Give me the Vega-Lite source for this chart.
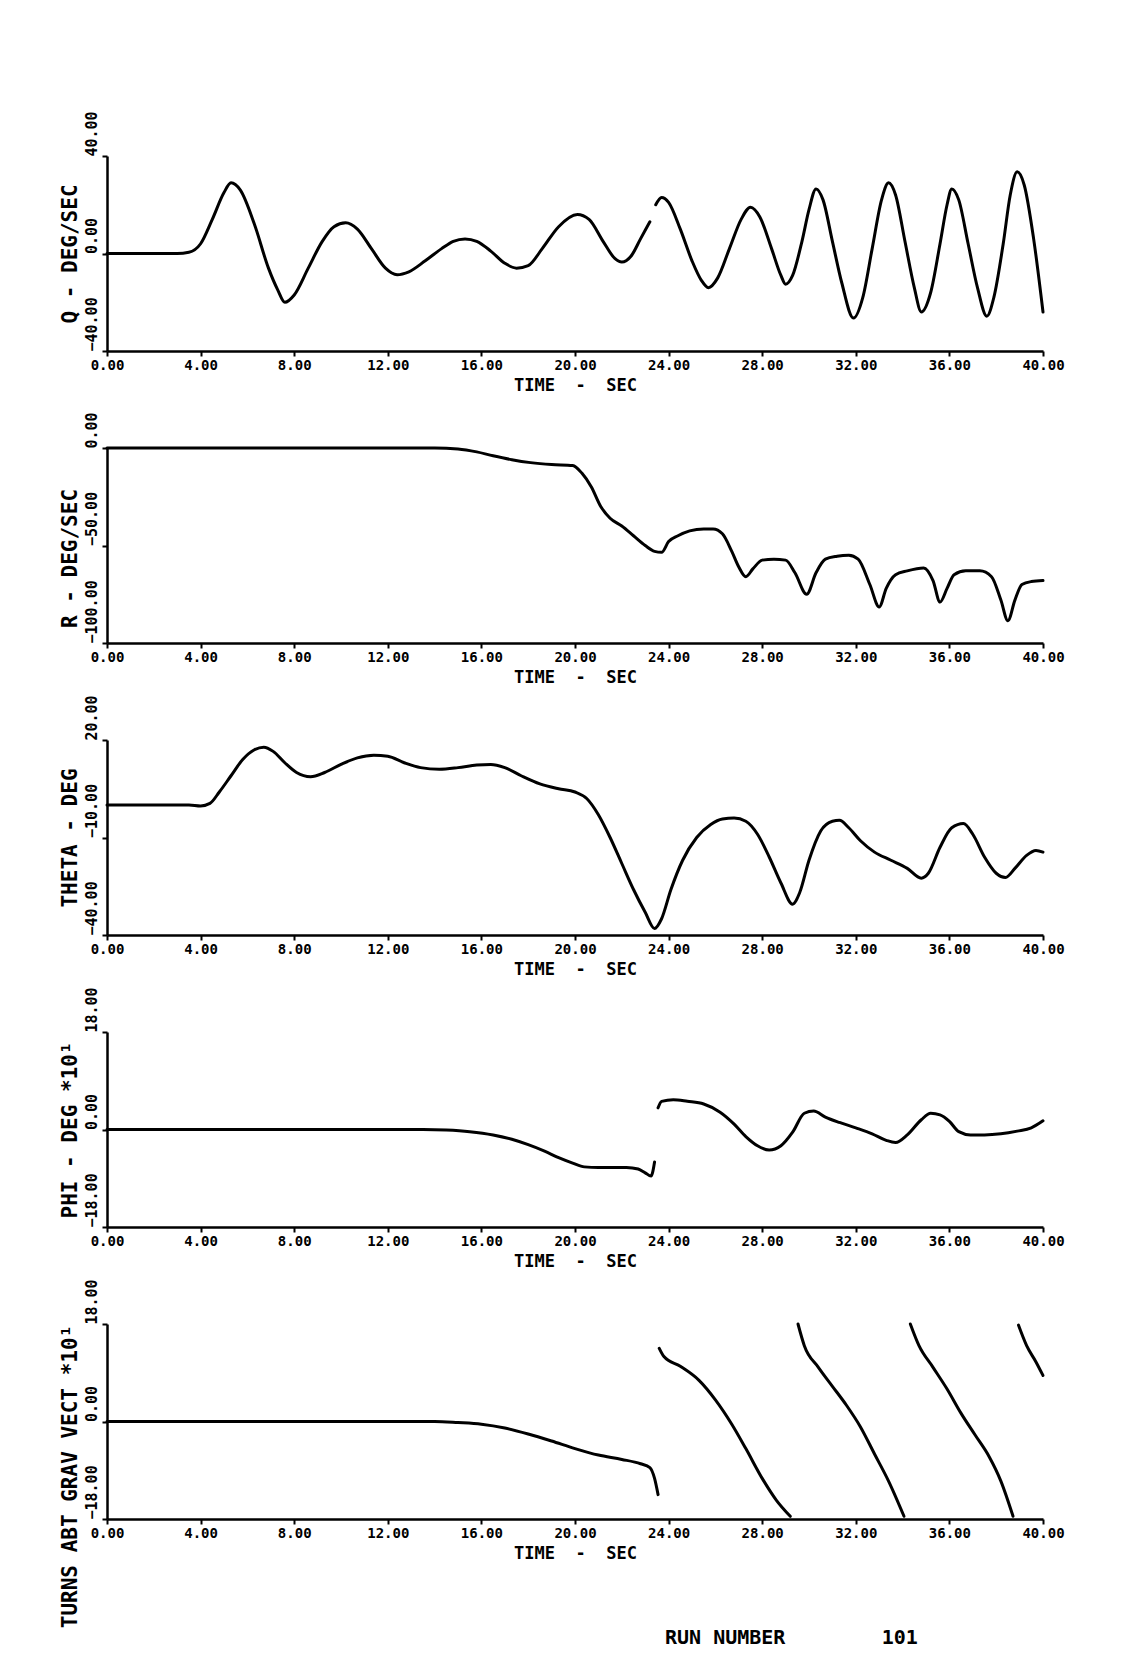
{
  "$schema": "https://vega.github.io/schema/vega-lite/v6.json",
  "background": "white",
  "padding": {"left": 58, "top": 110, "right": 20, "bottom": 6},
  "bounds": "flush",
  "spacing": 97,
  "datasets": {
    "q": [
      {"t": 0, "v": 0, "seg": 0}, {"t": 3.0, "v": 0, "seg": 0}, {"t": 3.5, "v": 0.5, "seg": 0}, {"t": 4.0, "v": 4, "seg": 0},
      {"t": 4.5, "v": 14, "seg": 0}, {"t": 5.0, "v": 25, "seg": 0}, {"t": 5.3, "v": 29, "seg": 0}, {"t": 5.7, "v": 26, "seg": 0},
      {"t": 6.3, "v": 12, "seg": 0}, {"t": 6.9, "v": -6, "seg": 0}, {"t": 7.3, "v": -15, "seg": 0}, {"t": 7.6, "v": -20, "seg": 0},
      {"t": 8.0, "v": -17, "seg": 0}, {"t": 8.6, "v": -6, "seg": 0}, {"t": 9.2, "v": 5, "seg": 0}, {"t": 9.7, "v": 11, "seg": 0},
      {"t": 10.2, "v": 12.6, "seg": 0}, {"t": 10.7, "v": 10, "seg": 0}, {"t": 11.3, "v": 2, "seg": 0}, {"t": 11.9, "v": -6, "seg": 0},
      {"t": 12.4, "v": -8.7, "seg": 0}, {"t": 12.9, "v": -7.5, "seg": 0}, {"t": 13.6, "v": -3, "seg": 0}, {"t": 14.3, "v": 2, "seg": 0},
      {"t": 14.8, "v": 5, "seg": 0}, {"t": 15.3, "v": 6, "seg": 0}, {"t": 15.8, "v": 5, "seg": 0}, {"t": 16.4, "v": 1, "seg": 0},
      {"t": 17.0, "v": -4, "seg": 0}, {"t": 17.5, "v": -6, "seg": 0}, {"t": 18.0, "v": -5, "seg": 0}, {"t": 18.6, "v": 2, "seg": 0},
      {"t": 19.3, "v": 11, "seg": 0}, {"t": 20.1, "v": 16, "seg": 0}, {"t": 20.6, "v": 14, "seg": 0}, {"t": 21.2, "v": 5, "seg": 0},
      {"t": 21.7, "v": -2, "seg": 0}, {"t": 22.0, "v": -3.5, "seg": 0}, {"t": 22.4, "v": -1, "seg": 0}, {"t": 22.8, "v": 6, "seg": 0},
      {"t": 23.2, "v": 13, "seg": 0},
      {"t": 23.45, "v": 20, "seg": 1}, {"t": 23.7, "v": 23, "seg": 1}, {"t": 24.0, "v": 21, "seg": 1}, {"t": 24.5, "v": 10, "seg": 1},
      {"t": 25.0, "v": -3, "seg": 1}, {"t": 25.4, "v": -11, "seg": 1}, {"t": 25.7, "v": -14, "seg": 1}, {"t": 26.1, "v": -10, "seg": 1},
      {"t": 26.6, "v": 2, "seg": 1}, {"t": 27.1, "v": 14, "seg": 1}, {"t": 27.5, "v": 19, "seg": 1}, {"t": 27.9, "v": 15, "seg": 1},
      {"t": 28.4, "v": 2, "seg": 1}, {"t": 28.8, "v": -9, "seg": 1}, {"t": 29.0, "v": -12.6, "seg": 1}, {"t": 29.3, "v": -9, "seg": 1},
      {"t": 29.7, "v": 5, "seg": 1}, {"t": 30.0, "v": 18, "seg": 1}, {"t": 30.3, "v": 26.5, "seg": 1}, {"t": 30.6, "v": 22, "seg": 1},
      {"t": 31.0, "v": 5, "seg": 1}, {"t": 31.4, "v": -12, "seg": 1}, {"t": 31.9, "v": -26.5, "seg": 1}, {"t": 32.3, "v": -18, "seg": 1},
      {"t": 32.7, "v": 2, "seg": 1}, {"t": 33.1, "v": 22, "seg": 1}, {"t": 33.4, "v": 29, "seg": 1}, {"t": 33.7, "v": 24, "seg": 1},
      {"t": 34.1, "v": 5, "seg": 1}, {"t": 34.5, "v": -14, "seg": 1}, {"t": 34.8, "v": -24, "seg": 1}, {"t": 35.2, "v": -16, "seg": 1},
      {"t": 35.6, "v": 4, "seg": 1}, {"t": 35.9, "v": 20, "seg": 1}, {"t": 36.1, "v": 26.5, "seg": 1}, {"t": 36.4, "v": 22, "seg": 1},
      {"t": 36.8, "v": 4, "seg": 1}, {"t": 37.2, "v": -14, "seg": 1}, {"t": 37.6, "v": -25.7, "seg": 1}, {"t": 37.9, "v": -18, "seg": 1},
      {"t": 38.3, "v": 4, "seg": 1}, {"t": 38.6, "v": 24, "seg": 1}, {"t": 38.9, "v": 33.5, "seg": 1}, {"t": 39.2, "v": 28, "seg": 1},
      {"t": 39.6, "v": 6, "seg": 1}, {"t": 40.0, "v": -24, "seg": 1}
    ],
    "r": [
      {"t": 0, "v": 0}, {"t": 14.0, "v": 0}, {"t": 15.0, "v": -0.5}, {"t": 15.8, "v": -2}, {"t": 16.5, "v": -4},
      {"t": 17.3, "v": -6}, {"t": 18.1, "v": -7.5}, {"t": 19.0, "v": -8.5}, {"t": 19.9, "v": -9}, {"t": 20.3, "v": -13},
      {"t": 20.7, "v": -20}, {"t": 21.1, "v": -30}, {"t": 21.5, "v": -36}, {"t": 22.0, "v": -40}, {"t": 22.5, "v": -45},
      {"t": 23.0, "v": -50}, {"t": 23.4, "v": -53}, {"t": 23.7, "v": -53.5}, {"t": 24.0, "v": -48}, {"t": 24.4, "v": -45},
      {"t": 24.9, "v": -42.5}, {"t": 25.5, "v": -41.5}, {"t": 25.9, "v": -41.5}, {"t": 26.3, "v": -44}, {"t": 26.7, "v": -53},
      {"t": 27.0, "v": -61}, {"t": 27.3, "v": -66}, {"t": 27.6, "v": -62}, {"t": 28.0, "v": -57.5}, {"t": 28.5, "v": -57},
      {"t": 29.0, "v": -57.5}, {"t": 29.4, "v": -64}, {"t": 29.9, "v": -75}, {"t": 30.3, "v": -64}, {"t": 30.7, "v": -57},
      {"t": 31.2, "v": -55.5}, {"t": 31.7, "v": -55}, {"t": 32.1, "v": -57}, {"t": 32.6, "v": -70}, {"t": 33.0, "v": -81.5},
      {"t": 33.3, "v": -72}, {"t": 33.7, "v": -65}, {"t": 34.2, "v": -63}, {"t": 34.9, "v": -61.5}, {"t": 35.3, "v": -68},
      {"t": 35.6, "v": -79}, {"t": 35.9, "v": -72}, {"t": 36.2, "v": -65}, {"t": 36.7, "v": -63}, {"t": 37.3, "v": -63},
      {"t": 37.8, "v": -66}, {"t": 38.2, "v": -78}, {"t": 38.5, "v": -88.6}, {"t": 38.8, "v": -78}, {"t": 39.1, "v": -70},
      {"t": 39.5, "v": -68.5}, {"t": 40.0, "v": -68}
    ],
    "theta": [
      {"t": 0, "v": 0}, {"t": 3.5, "v": 0}, {"t": 4.0, "v": -0.3}, {"t": 4.4, "v": 0.5}, {"t": 4.8, "v": 4},
      {"t": 5.3, "v": 9}, {"t": 5.8, "v": 14}, {"t": 6.3, "v": 17}, {"t": 6.7, "v": 17.8}, {"t": 7.1, "v": 16.5},
      {"t": 7.6, "v": 13}, {"t": 8.1, "v": 10}, {"t": 8.7, "v": 8.7}, {"t": 9.3, "v": 10}, {"t": 10.0, "v": 12.5},
      {"t": 10.7, "v": 14.5}, {"t": 11.4, "v": 15.3}, {"t": 12.0, "v": 15}, {"t": 12.7, "v": 13}, {"t": 13.4, "v": 11.5},
      {"t": 14.2, "v": 11}, {"t": 15.0, "v": 11.5}, {"t": 15.8, "v": 12.3}, {"t": 16.4, "v": 12.5}, {"t": 17.0, "v": 11.5},
      {"t": 17.7, "v": 9}, {"t": 18.5, "v": 6.5}, {"t": 19.3, "v": 5}, {"t": 20.0, "v": 4}, {"t": 20.5, "v": 2},
      {"t": 21.0, "v": -3}, {"t": 21.5, "v": -10}, {"t": 22.0, "v": -18}, {"t": 22.5, "v": -26}, {"t": 23.0, "v": -33},
      {"t": 23.4, "v": -38}, {"t": 23.7, "v": -35}, {"t": 24.1, "v": -26}, {"t": 24.6, "v": -17}, {"t": 25.2, "v": -10},
      {"t": 25.8, "v": -6}, {"t": 26.3, "v": -4.3}, {"t": 26.8, "v": -4}, {"t": 27.3, "v": -5}, {"t": 27.8, "v": -9},
      {"t": 28.3, "v": -16}, {"t": 28.8, "v": -24}, {"t": 29.3, "v": -30.5}, {"t": 29.6, "v": -27}, {"t": 30.0, "v": -17},
      {"t": 30.5, "v": -8}, {"t": 31.0, "v": -5}, {"t": 31.3, "v": -4.7}, {"t": 31.7, "v": -7}, {"t": 32.2, "v": -11},
      {"t": 32.8, "v": -14.5}, {"t": 33.5, "v": -17}, {"t": 34.2, "v": -19.5}, {"t": 34.8, "v": -22.5}, {"t": 35.1, "v": -21},
      {"t": 35.6, "v": -13}, {"t": 36.1, "v": -7}, {"t": 36.6, "v": -5.7}, {"t": 37.0, "v": -9}, {"t": 37.5, "v": -16},
      {"t": 38.0, "v": -21}, {"t": 38.4, "v": -22.3}, {"t": 38.8, "v": -19.5}, {"t": 39.3, "v": -15.5}, {"t": 39.7, "v": -14},
      {"t": 40.0, "v": -14.5}
    ],
    "phi": [
      {"t": 0, "v": 0, "seg": 0}, {"t": 13.5, "v": 0, "seg": 0}, {"t": 14.5, "v": -0.1, "seg": 0}, {"t": 15.5, "v": -0.4, "seg": 0},
      {"t": 16.5, "v": -1, "seg": 0}, {"t": 17.3, "v": -1.8, "seg": 0}, {"t": 18.0, "v": -2.8, "seg": 0}, {"t": 18.7, "v": -4, "seg": 0},
      {"t": 19.3, "v": -5.2, "seg": 0}, {"t": 19.9, "v": -6.2, "seg": 0}, {"t": 20.4, "v": -6.9, "seg": 0}, {"t": 21.0, "v": -7, "seg": 0},
      {"t": 21.6, "v": -7, "seg": 0}, {"t": 22.2, "v": -7, "seg": 0}, {"t": 22.7, "v": -7.3, "seg": 0}, {"t": 23.0, "v": -8, "seg": 0},
      {"t": 23.25, "v": -8.6, "seg": 0}, {"t": 23.4, "v": -6, "seg": 0},
      {"t": 23.55, "v": 4, "seg": 1}, {"t": 23.7, "v": 5.2, "seg": 1}, {"t": 24.2, "v": 5.5, "seg": 1}, {"t": 24.8, "v": 5.2, "seg": 1},
      {"t": 25.5, "v": 4.7, "seg": 1}, {"t": 26.2, "v": 3.2, "seg": 1}, {"t": 26.8, "v": 1, "seg": 1}, {"t": 27.3, "v": -1.3, "seg": 1},
      {"t": 27.8, "v": -3, "seg": 1}, {"t": 28.3, "v": -3.8, "seg": 1}, {"t": 28.8, "v": -3, "seg": 1}, {"t": 29.3, "v": -0.5, "seg": 1},
      {"t": 29.8, "v": 3, "seg": 1}, {"t": 30.2, "v": 3.4, "seg": 1}, {"t": 30.7, "v": 2.3, "seg": 1}, {"t": 31.3, "v": 1.3, "seg": 1},
      {"t": 32.0, "v": 0.3, "seg": 1}, {"t": 32.7, "v": -0.8, "seg": 1}, {"t": 33.3, "v": -2, "seg": 1}, {"t": 33.7, "v": -2.4, "seg": 1},
      {"t": 34.2, "v": -1, "seg": 1}, {"t": 34.8, "v": 1.8, "seg": 1}, {"t": 35.2, "v": 3, "seg": 1}, {"t": 35.6, "v": 2.7, "seg": 1},
      {"t": 36.0, "v": 1.5, "seg": 1}, {"t": 36.4, "v": -0.4, "seg": 1}, {"t": 36.9, "v": -1, "seg": 1}, {"t": 37.5, "v": -1, "seg": 1},
      {"t": 38.2, "v": -0.8, "seg": 1}, {"t": 38.9, "v": -0.3, "seg": 1}, {"t": 39.5, "v": 0.3, "seg": 1}, {"t": 40.0, "v": 1.6, "seg": 1}
    ],
    "turns": [
      {"t": 0, "v": 0, "seg": 0}, {"t": 14.0, "v": 0, "seg": 0}, {"t": 15.0, "v": -0.2, "seg": 0}, {"t": 16.0, "v": -0.5, "seg": 0},
      {"t": 17.0, "v": -1.2, "seg": 0}, {"t": 18.0, "v": -2.3, "seg": 0}, {"t": 19.0, "v": -3.6, "seg": 0}, {"t": 20.0, "v": -5, "seg": 0},
      {"t": 21.0, "v": -6.2, "seg": 0}, {"t": 22.0, "v": -7, "seg": 0}, {"t": 22.8, "v": -7.8, "seg": 0}, {"t": 23.2, "v": -8.5, "seg": 0},
      {"t": 23.4, "v": -10.5, "seg": 0}, {"t": 23.55, "v": -13.5, "seg": 0},
      {"t": 23.6, "v": 13.5, "seg": 1}, {"t": 23.8, "v": 12, "seg": 1}, {"t": 24.5, "v": 10.2, "seg": 1}, {"t": 25.3, "v": 7.6, "seg": 1},
      {"t": 26.0, "v": 4, "seg": 1}, {"t": 26.7, "v": -0.5, "seg": 1}, {"t": 27.3, "v": -5, "seg": 1}, {"t": 28.0, "v": -10.5, "seg": 1},
      {"t": 28.6, "v": -14.5, "seg": 1}, {"t": 29.2, "v": -17.5, "seg": 1},
      {"t": 29.53, "v": 18, "seg": 2}, {"t": 29.8, "v": 14, "seg": 2}, {"t": 30.4, "v": 10, "seg": 2}, {"t": 31.0, "v": 6.5, "seg": 2},
      {"t": 31.6, "v": 3, "seg": 2}, {"t": 32.2, "v": -1, "seg": 2}, {"t": 32.8, "v": -6, "seg": 2}, {"t": 33.4, "v": -11, "seg": 2},
      {"t": 34.06, "v": -17.5, "seg": 2},
      {"t": 34.33, "v": 18, "seg": 3}, {"t": 34.7, "v": 14, "seg": 3}, {"t": 35.3, "v": 10, "seg": 3}, {"t": 35.9, "v": 6, "seg": 3},
      {"t": 36.5, "v": 1.5, "seg": 3}, {"t": 37.1, "v": -2.5, "seg": 3}, {"t": 37.7, "v": -6.5, "seg": 3}, {"t": 38.2, "v": -11, "seg": 3},
      {"t": 38.72, "v": -17.5, "seg": 3},
      {"t": 38.95, "v": 17.8, "seg": 4}, {"t": 39.3, "v": 14, "seg": 4}, {"t": 39.7, "v": 11, "seg": 4}, {"t": 40.0, "v": 8.5, "seg": 4}
    ]
  },
  "config": {
    "font": "DejaVu Sans Mono",
    "view": {"stroke": null},
    "axis": {
      "grid": false,
      "domainColor": "black", "domainWidth": 2.5,
      "tickColor": "black", "tickWidth": 2, "tickSize": 5,
      "labelColor": "black", "labelFont": "DejaVu Sans Mono", "labelFontWeight": "bold", "labelFontSize": 14,
      "titleColor": "black", "titleFont": "DejaVu Sans Mono", "titleFontWeight": "bold", "titleFontSize": 17,
      "labelFlush": false, "labelOverlap": false, "labelBound": false
    },
    "axisX": {"labelPadding": 2, "titlePadding": 5},
    "axisY": {"labelAngle": 270, "labelAlign": "left", "labelBaseline": "bottom", "labelPadding": 3, "labelFontSize": 15, "titlePadding": 4, "titleFontSize": 21},
    "line": {"color": "black", "strokeWidth": 3, "interpolate": "monotone", "strokeJoin": "round", "strokeCap": "round"}
  },
  "title": {
    "text": "RUN NUMBER\u00a0\u00a0\u00a0\u00a0\u00a0\u00a0\u00a0\u00a0101",
    "orient": "bottom",
    "anchor": "start",
    "dx": 606,
    "offset": 0,
    "font": "DejaVu Sans Mono",
    "fontSize": 20,
    "fontWeight": "bold",
    "color": "black"
  },
  "vconcat": [
    {
      "width": 936, "height": 195,
      "data": {"name": "q"},
      "mark": "line",
      "encoding": {
        "x": {"field": "t", "type": "quantitative", "scale": {"domain": [0, 40], "nice": false}, "axis": {"values": [0, 4, 8, 12, 16, 20, 24, 28, 32, 36, 40], "format": ".2f", "title": "TIME\u00a0\u00a0-\u00a0\u00a0SEC"}},
        "y": {"field": "v", "type": "quantitative", "scale": {"domain": [-40, 40], "nice": false}, "axis": {"values": [-40, 0, 40], "format": ".2f", "title": "Q - DEG/SEC"}},
        "detail": {"field": "seg", "type": "nominal"}
      }
    },
    {
      "width": 936, "height": 195,
      "data": {"name": "r"},
      "mark": "line",
      "encoding": {
        "x": {"field": "t", "type": "quantitative", "scale": {"domain": [0, 40], "nice": false}, "axis": {"values": [0, 4, 8, 12, 16, 20, 24, 28, 32, 36, 40], "format": ".2f", "title": "TIME\u00a0\u00a0-\u00a0\u00a0SEC"}},
        "y": {"field": "v", "type": "quantitative", "scale": {"domain": [-100, 0], "nice": false}, "axis": {"values": [-100, -50, 0], "format": ".2f", "title": "R - DEG/SEC", "titleY": 110}}
      }
    },
    {
      "width": 936, "height": 195,
      "data": {"name": "theta"},
      "mark": "line",
      "encoding": {
        "x": {"field": "t", "type": "quantitative", "scale": {"domain": [0, 40], "nice": false}, "axis": {"values": [0, 4, 8, 12, 16, 20, 24, 28, 32, 36, 40], "format": ".2f", "title": "TIME\u00a0\u00a0-\u00a0\u00a0SEC"}},
        "y": {"field": "v", "type": "quantitative", "scale": {"domain": [-40, 20], "nice": false, "zero": false}, "axis": {"values": [-40, -10, 20], "format": ".2f", "title": "THETA - DEG"}}
      }
    },
    {
      "width": 936, "height": 195,
      "data": {"name": "phi"},
      "mark": "line",
      "encoding": {
        "x": {"field": "t", "type": "quantitative", "scale": {"domain": [0, 40], "nice": false}, "axis": {"values": [0, 4, 8, 12, 16, 20, 24, 28, 32, 36, 40], "format": ".2f", "title": "TIME\u00a0\u00a0-\u00a0\u00a0SEC"}},
        "y": {"field": "v", "type": "quantitative", "scale": {"domain": [-18, 18], "nice": false}, "axis": {"values": [-18, 0, 18], "format": ".2f", "title": "PHI - DEG *10¹"}},
        "detail": {"field": "seg", "type": "nominal"}
      }
    },
    {
      "width": 936, "height": 195,
      "data": {"name": "turns"},
      "mark": "line",
      "encoding": {
        "x": {"field": "t", "type": "quantitative", "scale": {"domain": [0, 40], "nice": false}, "axis": {"values": [0, 4, 8, 12, 16, 20, 24, 28, 32, 36, 40], "format": ".2f", "title": "TIME\u00a0\u00a0-\u00a0\u00a0SEC"}},
        "y": {"field": "v", "type": "quantitative", "scale": {"domain": [-18, 18], "nice": false}, "axis": {"values": [-18, 0, 18], "format": ".2f", "title": "TURNS ABT GRAV VECT *10¹", "titleY": 152}},
        "detail": {"field": "seg", "type": "nominal"}
      }
    }
  ]
}
